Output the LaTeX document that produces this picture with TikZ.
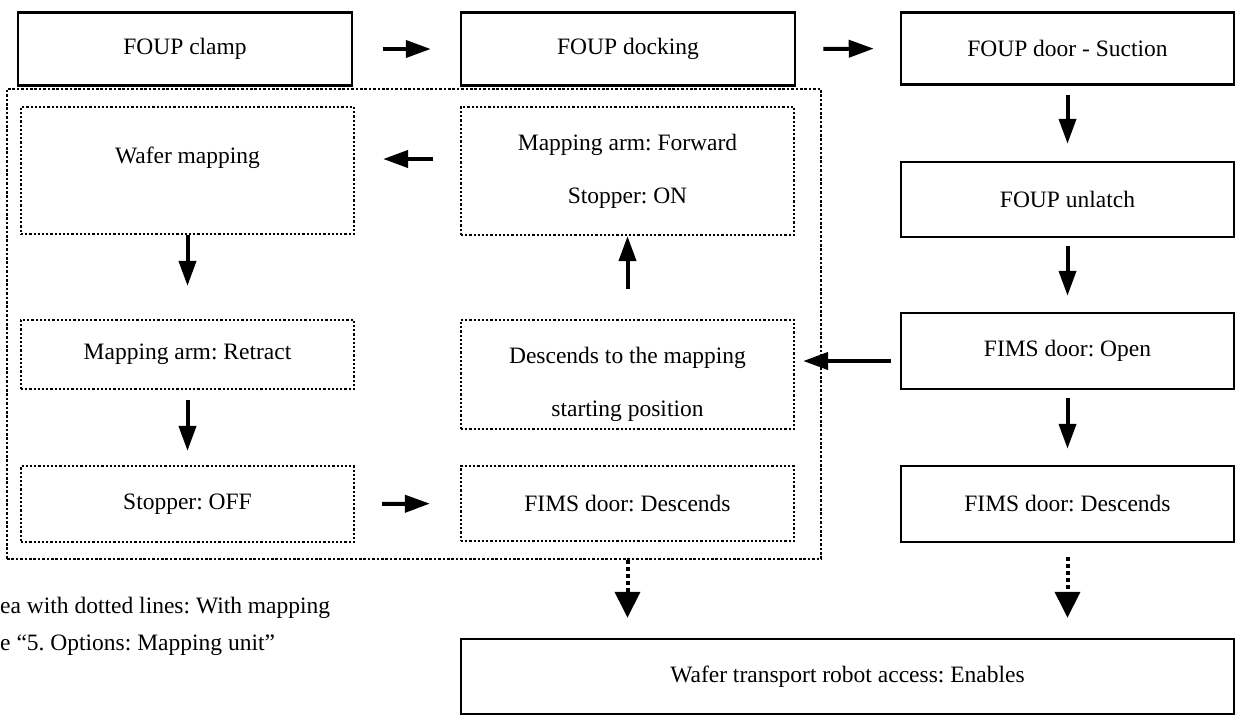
\documentclass[tikz,border=0pt]{standalone}
\usepackage{fontspec}
\setmainfont{Liberation Serif}
\usetikzlibrary{arrows.meta}

\tikzset{
	solidbox/.style={draw, line width=2.5pt, minimum width=333pt, minimum height=75pt, inner sep=0pt, align=center, font=\fontsize{23.5}{53}\selectfont\frenchspacing},
	dotbox/.style={solidbox, line width=2.2pt, dotted},
	areabox/.style={draw, line width=2.6pt, dash pattern=on 2.6pt off 1.8pt, inner sep=0pt},
	notetext/.style={anchor=base west, inner sep=0pt, font=\fontsize{23.5}{37}\selectfont\frenchspacing},
	flow/.style={line width=4pt, -{Triangle[length=25pt,width=17pt]}},
	dotflow/.style={line width=4pt, dash pattern=on 4pt off 3pt, -{Triangle[length=26pt,width=25pt]}}
}
% struts to move a box text up or down
\newcommand{\upstrut}{\rule[-31pt]{0pt}{31pt}}
\newcommand{\downstrut}{\rule{0pt}{37pt}}

\begin{document}
\begin{tikzpicture}[x=1pt,y=-1pt]
	\useasboundingbox (0,0) rectangle (1236,715);
	% mapping area
	\node[areabox, minimum width=814pt, minimum height=470pt] (maparea) at (414,324) {};
	% top row and right column
	\node[solidbox, minimum width=334pt, minimum height=73pt] (clamp) at (185,49) {FOUP clamp};
	\node[solidbox, minimum width=334pt, minimum height=73pt] (docking) at (628,49) {FOUP docking};
	\node[solidbox, minimum height=72pt] (suction) at (1067.5,48.5) {FOUP door - Suction};
	\node[solidbox] (unlatch) at (1067.5,199.5) {FOUP unlatch};
	\node[solidbox, minimum height=76pt] (fimsopen) at (1067.5,351) {FIMS door: Open};
	\node[solidbox, minimum height=76pt] (fimsdown) at (1067.5,504) {FIMS door: Descends};
	% dotted boxes
	\node[dotbox, minimum height=127pt] (wafermap) at (187.5,170.5) {\upstrut Wafer mapping};
	\node[dotbox, minimum height=128pt] (armfwd) at (627.5,171) {Mapping arm: Forward\\Stopper: ON};
	\node[dotbox, minimum height=69pt] (retract) at (187.5,354.5) {Mapping arm: Retract};
	\node[dotbox, minimum height=109pt] (descmap) at (627.5,374.5) {\downstrut Descends to the mapping\\starting position};
	\node[dotbox, minimum height=76pt] (stopoff) at (187.5,504) {Stopper: OFF};
	\node[dotbox] (fimsdesc) at (627.5,503.5) {FIMS door: Descends};
	% last step
	\node[solidbox, minimum width=773pt] (robot) at (847.5,676.5) {Wafer transport robot access: Enables};
	% note
	\node[notetext] (note1) at (0,613) {ea with dotted lines: With mapping};
	\node[notetext] (note2) at (0,650) {e “5. Options: Mapping unit”};
	% arrows
	\draw[flow, shorten <=30pt, shorten >=29pt] (clamp.east) -- (docking.west);
	\draw[flow, shorten <=27pt, shorten >=26pt] (docking.east) -- (suction.west);
	\draw[flow, shorten <=9pt, shorten >=17pt] (suction) -- (unlatch);
	\draw[flow, shorten <=8pt, shorten >=16pt] (unlatch) -- (fimsopen);
	\draw[flow, shorten <=8pt, shorten >=16pt] (fimsopen) -- (fimsdown);
	\draw[flow, shorten <=9pt, shorten >=8pt] ([yshift=-10pt]fimsopen.west) -- ([yshift=-10pt]descmap.east |- fimsopen.west);
	\draw[flow, shorten <=30pt] (descmap) -- (armfwd);
	\draw[flow, shorten <=27pt, shorten >=28pt] ([yshift=12pt]armfwd.west) -- ([yshift=12pt]wafermap.east |- armfwd.west);
	\draw[flow, shorten >=33pt] (wafermap) -- (retract);
	\draw[flow, shorten <=10pt, shorten >=14pt] (retract) -- (stopoff);
	\draw[flow, shorten <=27pt, shorten >=30pt] (stopoff.east) -- (fimsdesc.west);
	\draw[dotflow, shorten >=20pt] (maparea.south -| fimsdesc.south) -- (robot.north -| fimsdesc.south);
	\draw[dotflow, shorten <=14pt, shorten >=20pt] (fimsdown) -- (robot.north -| fimsdown.south);
\end{tikzpicture}
\end{document}
